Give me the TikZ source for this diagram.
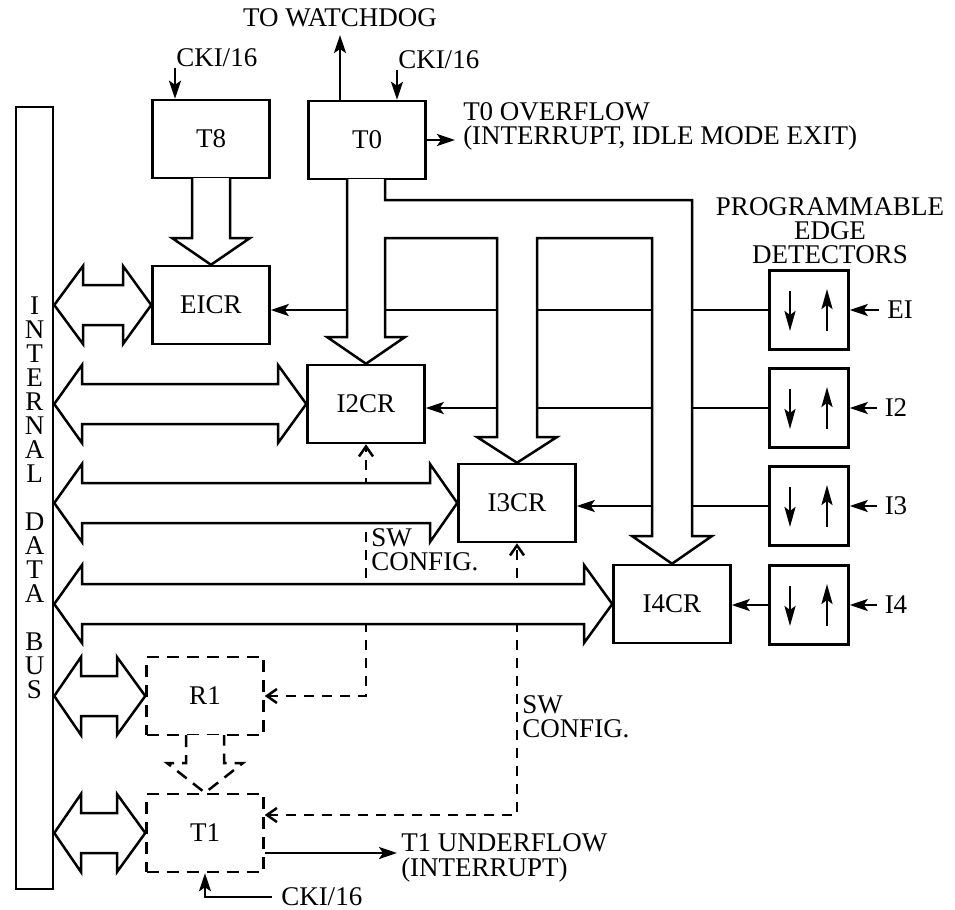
\documentclass[tikz,border=0pt]{standalone}
\usepackage{fontspec}
\setmainfont{Liberation Serif}
\usetikzlibrary{arrows.meta,calc}

\begin{document}
\begin{tikzpicture}[x=0.5pt,y=-0.5pt,line width=1.25pt,font=\fontsize{13.5}{12}\selectfont,
  crbox/.style={draw,minimum width=58.5pt,minimum height=39pt,inner sep=0pt},
  dbox/.style={crbox,dash pattern=on 6pt off 4pt},
  edgebox/.style={draw,minimum width=39.5pt,minimum height=39.5pt,inner sep=0pt},
  sig/.style={-{Stealth[length=9pt,width=6pt,inset=2pt]}},
  edgetip/.style={-{Stealth[length=10pt,width=5.5pt,inset=2pt]}},
  swline/.style={dash pattern=on 5pt off 4pt,>={Straight Barb[length=5pt,width=7pt]},<->},
  fatarrow/.style={fill=white,line join=miter}]
\useasboundingbox (0,0) rectangle (955,910);

% blocks
\node[crbox] (t8) at (211,139) {T8};
\node[crbox] (t0) at (367,140) {T0};
\node[crbox] (eicr) at (211,305) {EICR};
\node[crbox] (i2cr) at (366,404) {I2CR};
\node[crbox] (i3cr) at (517,503) {I3CR};
\node[crbox] (i4cr) at (672,604) {I4CR};
\node[dbox] (r1) at (205,696) {R1};
\node[dbox] (t1) at (205,833) {T1};
\node[draw,minimum width=18.5pt,minimum height=391pt,align=center,inner sep=0pt] (bus) at (34.5,498)
  {I\\N\\T\\E\\R\\N\\A\\L\\[12pt]D\\A\\T\\A\\[12pt]B\\U\\S};

% edge detectors
\node[edgebox] (dei) at (809,310) {};
\node[edgebox] (di2) at (809,408) {};
\node[edgebox] (di3) at (809,506) {};
\node[edgebox] (di4) at (809,605) {};
\node[align=center] (pedlbl) at (830,231) {PROGRAMMABLE\\EDGE\\DETECTORS};
\node (lei) at (900,310) {EI};
\node (li2) at (896,408) {I2};
\node (li3) at (896,506) {I3};
\node (li4) at (896,605) {I4};

% texts
\node (wd) at (340,18) {TO WATCHDOG};
\node[anchor=south west,inner sep=0pt] (ck8) at (175,68) {CKI/16};
\node[anchor=south west,inner sep=0pt] (ck0) at (397,70) {CKI/16};
\node[anchor=west,align=left,inner sep=0pt] (ovf) at (462,126) {T0 OVERFLOW\\(INTERRUPT, IDLE MODE EXIT)};
\node[anchor=west,align=left,inner sep=0pt,font=\fontsize{13.5}{12.5}\selectfont] (unf) at (400,858) {T1 UNDERFLOW\\(INTERRUPT)};
\node[anchor=west,inner sep=4pt] (ck1) at (272,897) {CKI/16};
\node[anchor=west,align=left,inner sep=0pt] (sw1) at (370,550) {SW\\CONFIG.};
\node[anchor=west,align=left,inner sep=0pt] (sw2) at (521,717) {SW\\CONFIG.};
\coordinate (ovfend) at (455,140);
\coordinate (unfend) at (397,853);

% thin connectors
\draw[sig] (t0.north -| wd) -- (wd.south);
\draw[sig] (ck8.south west) -- (ck8.south west |- t8.north);
\draw[sig] (ck0.south west) -- (ck0.south west |- t0.north);
\draw[sig] (t0.east) -- (ovfend);
\draw[sig] (t1.east |- unfend) -- (unfend);
\draw[sig] (ck1.west) -| (t1.south);
\draw[sig] (dei.west) -- (dei.west -| eicr.east);
\draw[sig] (di2.west) -- (di2.west -| i2cr.east);
\draw[sig] (di3.west) -- (di3.west -| i3cr.east);
\draw[sig] (di4.west) -- (di4.west -| i4cr.east);
\draw[sig] (lei.west) -- (dei.east);
\draw[sig] (li2.west) -- (di2.east);
\draw[sig] (li3.west) -- (di3.east);
\draw[sig] (li4.west) -- (di4.east);
\draw[edgetip] ($(dei)+(-19,-19)$) -- ++(0,40);
\draw[edgetip] ($(dei)+(18,21)$) -- ++(0,-42);
\draw[edgetip] ($(di2)+(-19,-19)$) -- ++(0,40);
\draw[edgetip] ($(di2)+(18,21)$) -- ++(0,-42);
\draw[edgetip] ($(di3)+(-19,-19)$) -- ++(0,40);
\draw[edgetip] ($(di3)+(18,21)$) -- ++(0,-42);
\draw[edgetip] ($(di4)+(-19,-19)$) -- ++(0,40);
\draw[edgetip] ($(di4)+(18,21)$) -- ++(0,-42);

% sw config
\draw[swline] (r1.east) -| (i2cr.south);
\draw[swline] ($(t1.east)+(0,-18)$) -| (i3cr.south);

% wide arrows
\draw[fatarrow] (192,178) -- (192,238) -- (172,238) -- (eicr.north) -- (250,238) -- (230,238) -- (230,178);
\draw[fatarrow] (347,179) -- (347,337) -- (327,337) -- (i2cr.north) -- (405,337) -- (385,337) -- (385,238)
  -- (497,238) -- (497,437) -- (477,437) -- (i3cr.north) -- (557,437) -- (537,437) -- (537,238)
  -- (652,238) -- (652,536) -- (632,536) -- (i4cr.north) -- (712,536) -- (692,536) -- (692,200)
  -- (385,200) -- (385,179);
\draw[fatarrow,dash pattern=on 6pt off 4pt] (186,735) -- (186,763) -- (167,763) -- (t1.north) -- (243,763) -- (224,763) -- (224,735);

% bus arrows
\draw[fatarrow] (bus.east |- eicr.west) -- (83,266) -- (83,285) -- (123,285) -- (123,266) -- (eicr.west)
  -- (123,344) -- (123,325) -- (83,325) -- (83,344) -- cycle;
\draw[fatarrow] (bus.east |- i2cr.west) -- (82,365) -- (82,384) -- (278,384) -- (278,365) -- (i2cr.west)
  -- (278,443) -- (278,424) -- (82,424) -- (82,443) -- cycle;
\draw[fatarrow] (bus.east |- i3cr.west) -- (82,464) -- (82,483) -- (430,483) -- (430,464) -- (i3cr.west)
  -- (430,542) -- (430,523) -- (82,523) -- (82,542) -- cycle;
\draw[fatarrow] (bus.east |- i4cr.west) -- (82,565) -- (82,584) -- (584,584) -- (584,565) -- (i4cr.west)
  -- (584,643) -- (584,624) -- (82,624) -- (82,643) -- cycle;
\draw[fatarrow] (bus.east |- r1.west) -- (81,657) -- (81,676) -- (117,676) -- (117,657) -- (r1.west)
  -- (117,735) -- (117,716) -- (81,716) -- (81,735) -- cycle;
\draw[fatarrow] (bus.east |- t1.west) -- (81,794) -- (81,813) -- (117,813) -- (117,794) -- (t1.west)
  -- (117,872) -- (117,853) -- (81,853) -- (81,872) -- cycle;
\end{tikzpicture}
\end{document}
